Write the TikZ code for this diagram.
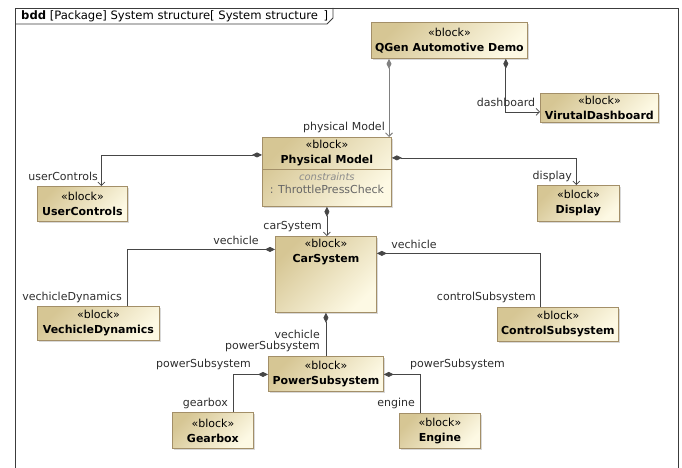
\documentclass[tikz,border=0pt]{standalone}
\usepackage{fontspec}
\setmainfont{DejaVu Sans}
\usetikzlibrary{arrows.meta,positioning,calc,shadows}
\definecolor{blktop}{RGB}{214,198,148}
\definecolor{blkbot}{RGB}{253,249,228}
\definecolor{blkedge}{RGB}{163,143,104}
\definecolor{lnk}{RGB}{70,70,70}
\definecolor{lbltxt}{RGB}{45,45,45}
\definecolor{frm}{RGB}{60,60,60}
\tikzset{
  blk/.style={rectangle, draw=blkedge, line width=0.8pt,
              top color=blktop, bottom color=blkbot, shading angle=45,
              drop shadow={shadow xshift=1.6pt, shadow yshift=-1.6pt,
                           opacity=0.3},
              anchor=north west, inner sep=0pt, align=center,
              text=black, font=\fontsize{11}{15}\selectfont},
  blktxt/.style={inner sep=0pt, align=center, text=black,
                 font=\fontsize{11}{15}\selectfont},
  lbl/.style={inner sep=0pt, text=lbltxt, font=\fontsize{11}{13}\selectfont},
  comp/.style={draw=lnk, line width=0.7pt,
               {Diamond[length=10pt,width=5pt]}-},
  compto/.style={comp, {Diamond[length=10pt,width=5pt]}-{Straight Barb[length=3.5pt,width=7pt]}},
  frame/.style={draw=frm, line width=0.8pt}
}
\begin{document}
\begin{tikzpicture}[x=1pt, y=-1pt]
  \useasboundingbox (0,0) rectangle (682,468);
  \draw[frame] (15,470) -- (15,8) -- (678,8) -- (678,470);
  \draw[frame] (15,24) -- (327,24) -- (333,18) -- (333,8);
  \node[lbl, text=black, anchor=west, font=\fontsize{11.6}{13}\selectfont] (hdr) at (21,16)
    {\textbf{bdd} [Package] System structure[ System structure\, ]};

  \node[blk, minimum width=156pt, minimum height=36pt] (qgen) at (371,22)
    {«block»\\\textbf{QGen Automotive Demo}};
  \node[blk, minimum width=118pt, minimum height=29pt] (vdash) at (540,93)
    {«block»\\\textbf{VirutalDashboard}};
  \node[blk, minimum width=129pt, minimum height=69pt] (pm) at (262,137) {};
  \node[blktxt, anchor=north] (pmtxt) at ([yshift=-3pt]pm.north)
    {«block»\\\textbf{Physical Model}};
  \draw[draw=blkedge, line width=0.8pt] ([yshift=2.5pt]pm.west) -- ([yshift=2.5pt]pm.east);
  \node[inner sep=0pt, text=black!45, font=\fontsize{10}{12}\selectfont\itshape]
    (pmcons) at ([yshift=-40pt]pm.north) {constraints};
  \node[inner sep=0pt, text=black!60, font=\fontsize{11}{13}\selectfont]
    (pmthr) at ([yshift=-52pt]pm.north) {: ThrottlePressCheck};
  \node[blk, minimum width=90pt, minimum height=35pt] (uc) at (37,186)
    {«block»\\\textbf{UserControls}};
  \node[blk, minimum width=82pt, minimum height=36pt] (disp) at (537,185)
    {«block»\\\textbf{Display}};
  \node[blk, minimum width=101pt, minimum height=76pt] (cs) at (275,236) {};
  \node[blktxt, anchor=north] (cstxt) at ([yshift=-3pt]cs.north)
    {«block»\\\textbf{CarSystem}};
  \node[blk, minimum width=122pt, minimum height=34pt] (vd) at (37,306)
    {«block»\\\textbf{VechicleDynamics}};
  \node[blk, minimum width=121pt, minimum height=34pt] (ctrl) at (497,307)
    {«block»\\\textbf{ControlSubsystem}};
  \node[blk, minimum width=115pt, minimum height=35pt] (ps) at (268,356)
    {«block»\\\textbf{PowerSubsystem}};
  \node[blk, minimum width=81pt, minimum height=36pt] (gb) at (172,412)
    {«block»\\\textbf{Gearbox}};
  \node[blk, minimum width=81pt, minimum height=35pt] (eng) at (399,413)
    {«block»\\\textbf{Engine}};

  \draw[compto, draw=black!50, line width=1pt] ([xshift=18pt]qgen.south west) -- ([xshift=18pt]qgen.south west |- pm.north);
  \draw[compto] ([xshift=-22pt]qgen.south east) |- ([yshift=-4pt]vdash.west);
  \draw[compto] ([yshift=17pt]pm.west) -| ([xshift=19pt]uc.north);
  \draw[compto] ([yshift=14pt]pm.east) -| ([xshift=-2pt]disp.north);
  \draw[compto] (pm.south) -- (pm.south |- cs.north);
  \draw[comp] ([yshift=25pt]cs.west) -| ([xshift=29pt]vd.north);
  \draw[comp] ([yshift=21pt]cs.east) -| ([xshift=-17.5pt]ctrl.north);
  \draw[comp] (cs.south) -- (cs.south |- ps.north);
  \draw[comp] ([yshift=-0.5pt]ps.west) -| ([xshift=20.5pt]gb.north);
  \draw[comp] ([yshift=-0.5pt]ps.east) -| ([xshift=-19.5pt]eng.north);

  \node[lbl, anchor=east] (lpm) at (385,127) {physical Model};
  \node[lbl] (ldash) at (506,102) {dashboard};
  \node[lbl, anchor=east] (luc) at (98,176) {userControls};
  \node[lbl, anchor=east] (ldisp) at (572,176) {display};
  \node[lbl, anchor=east] (lcs) at (322,227) {carSystem};
  \node[lbl] (lveh1) at (236,240) {vechicle};
  \node[lbl, anchor=east] (lvd) at (122,297) {vechicleDynamics};
  \node[lbl] (lveh2) at (414,244) {vechicle};
  \node[lbl, anchor=east] (lctrl) at (536,297) {controlSubsystem};
  \node[lbl, anchor=east] (lveh3) at (320,334) {vechicle};
  \node[lbl, anchor=east] (lps1) at (320,346) {powerSubsystem};
  \node[lbl, anchor=east] (lps2) at (251,364) {powerSubsystem};
  \node[lbl, anchor=east] (lgb) at (228,403) {gearbox};
  \node[lbl, anchor=west] (lps3) at (410,364) {powerSubsystem};
  \node[lbl, anchor=east] (leng) at (415,403) {engine};
\end{tikzpicture}
\end{document}
